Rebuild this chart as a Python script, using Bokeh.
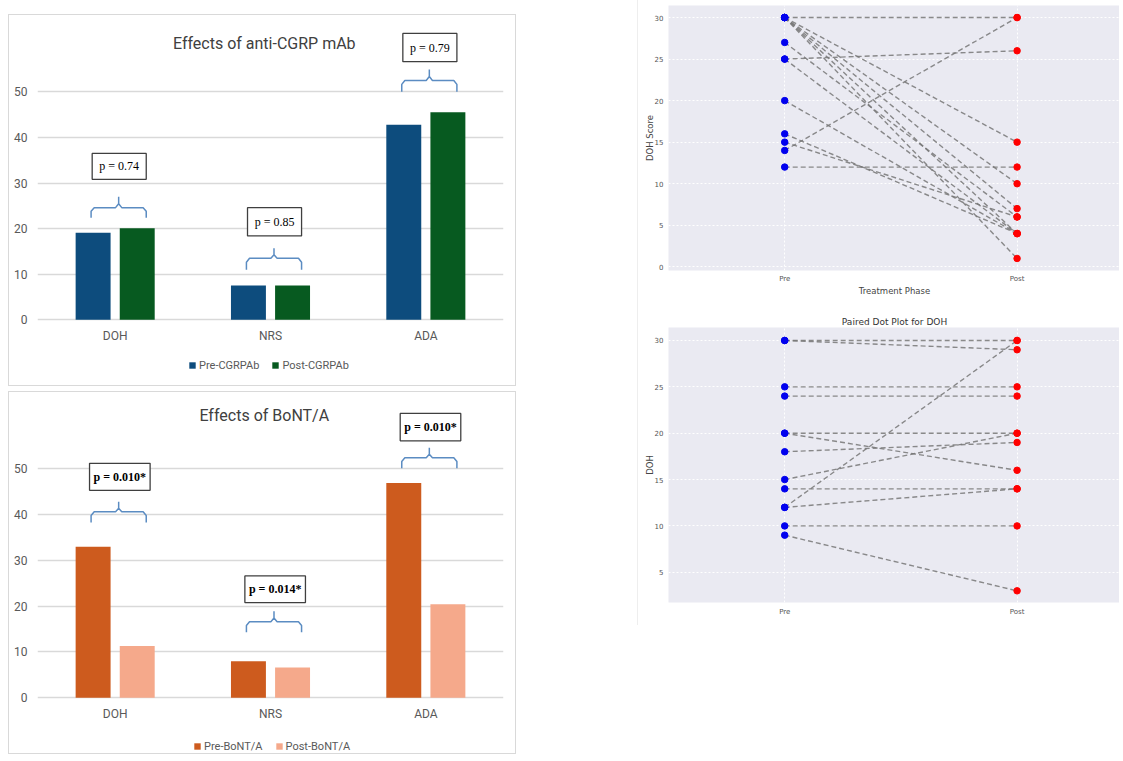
from bokeh.plotting import figure
from bokeh.models import (Range1d, FixedTicker, Legend, LegendItem, Label,
                          ColumnDataSource, Spacer)
from bokeh.layouts import column, row
from bokeh.core.properties import value
from bokeh.embed import file_html
from bokeh.resources import INLINE

# ---------------- data ----------------
categories = ["DOH", "NRS", "ADA"]
cgrp_pre = [19.1, 7.5, 42.8]
cgrp_post = [20.1, 7.5, 45.5]
cgrp_pvals = ["p = 0.74", "p = 0.85", "p = 0.79"]
bont_pre = [33.0, 8.0, 46.9]
bont_post = [11.3, 6.6, 20.4]
bont_pvals = ["p = 0.010*", "p = 0.014*", "p = 0.010*"]
bar_ticks = [0, 10, 20, 30, 40, 50]

phases = ["Pre", "Post"]
dot1_pre = [30, 25, 14, 12, 30, 30, 30, 30, 30, 27, 25, 20, 16, 15]
dot1_post = [30, 26, 30, 12, 15, 10, 7, 4, 1, 6, 4, 4, 4, 6]
dot1_ticks = [0, 5, 10, 15, 20, 25, 30]
dot2_pre = [30, 30, 25, 24, 20, 20, 18, 15, 14, 12, 12, 10, 9]
dot2_post = [30, 29, 25, 24, 20, 16, 19, 20, 14, 30, 14, 10, 3]
dot2_ticks = [5, 10, 15, 20, 25, 30]

SANS = "Roboto"
SERIF = "Liberation Serif"
MPL = "DejaVu Sans"


def brace(c, lo, hi, y_end, y_h, y_tip):
    xl, xr = c + lo, c + hi
    xc = (xl + xr) / 2
    d = 0.02
    e = (y_h - y_end) * 0.35
    f = (y_tip - y_h) * 0.35
    xs = [xl, xl, xl + d, xc - d, xc, xc, xc, xc + d, xr - d, xr, xr]
    ys = [y_end, y_h - e, y_h, y_h, y_h + f, y_tip, y_h + f, y_h, y_h, y_h - e, y_end]
    return xs, ys


def bar_panel(title, title_pos, pre, post, pvals, colors, labels, height,
              top_border, y_range, braces, boxes, box_x, bold, legend_loc):
    n = len(categories)
    idx = list(range(n))
    p = figure(width=508, height=height, x_range=Range1d(-0.5, n - 0.5),
               y_range=Range1d(*y_range), output_backend="svg",
               toolbar_location=None, min_border_left=28, min_border_right=14,
               min_border_top=top_border, min_border_bottom=0)
    p.outline_line_color = None
    p.background_fill_color = "white"
    p.border_fill_color = "white"
    p.styles = {"border": "1px solid #d9d9d9"}

    src = ColumnDataSource(dict(x=idx, pre=pre, post=post,
                                xpre=[i - 0.142 for i in idx],
                                xpost=[i + 0.142 for i in idx]))
    r1 = p.vbar(x="xpre", top="pre", width=0.225, source=src,
                fill_color=colors[0], line_color=None)
    r2 = p.vbar(x="xpost", top="post", width=0.225, source=src,
                fill_color=colors[1], line_color=None)

    # axes
    p.xaxis.ticker = FixedTicker(ticks=idx)
    p.xaxis.major_label_overrides = {i: c for i, c in enumerate(categories)}
    p.xaxis.fixed_location = 0
    p.yaxis.ticker = FixedTicker(ticks=bar_ticks)
    for ax in (p.xaxis, p.yaxis):
        ax.axis_line_color = None
        ax.major_tick_line_color = None
        ax.minor_tick_line_color = None
        ax.major_tick_out = 0
        ax.major_tick_in = 0
        ax.minor_tick_out = 0
        ax.major_label_text_font = SANS
        ax.major_label_text_font_size = "12px"
        ax.major_label_text_color = "#595959"
    p.xaxis.major_label_standoff = 9
    p.yaxis.major_label_standoff = 10
    p.xgrid.grid_line_color = None
    p.ygrid.grid_line_color = "#d9d9d9"
    p.ygrid.grid_line_width = 1.3

    # brackets
    bx, by = [], []
    for i, (ye, yh, yt) in enumerate(braces):
        xs, ys = brace(i, -0.155, 0.2, ye, yh, yt)
        bx.append(xs)
        by.append(ys)
    p.multi_line(xs=bx, ys=by, line_color="#5b8cc2", line_width=1.5)

    # p-value boxes
    bsrc = ColumnDataSource(dict(
        left=[i + box_x[0] for i in idx], right=[i + box_x[1] for i in idx],
        bottom=[b[0] for b in boxes], top=[b[1] for b in boxes],
        xc=[i + (box_x[0] + box_x[1]) / 2 for i in idx],
        yc=[(b[0] + b[1]) / 2 for b in boxes], txt=pvals))
    p.quad(left="left", right="right", bottom="bottom", top="top", source=bsrc,
           fill_color="white", line_color="#3f3f3f", line_width=1.3)
    p.text(x="xc", y="yc", text="txt", source=bsrc, text_align="center",
           text_baseline="middle", text_font=value(SERIF),
           text_font_size="12px", text_color="black",
           text_font_style="bold" if bold else "normal")

    p.add_layout(Label(x=title_pos[0], y=title_pos[1], text=title,
                       text_align="center", text_baseline="middle",
                       text_font=SANS, text_font_size="16px",
                       text_color="#404040"))

    legend = Legend(items=[LegendItem(label=labels[0], renderers=[r1]),
                           LegendItem(label=labels[1], renderers=[r2])],
                    orientation="horizontal", location=legend_loc,
                    glyph_width=8, glyph_height=8, label_standoff=3,
                    spacing=12, padding=0, margin=0,
                    label_text_font=SANS, label_text_font_size="11px",
                    label_text_color="#595959", background_fill_alpha=0,
                    border_line_color=None, label_height=14)
    p.add_layout(legend, "center")
    return p


p1 = bar_panel("Effects of anti-CGRP mAb", (0.96, 60.6), cgrp_pre, cgrp_post,
               cgrp_pvals, ["#0d4c7d", "#075a20"], ["Pre-CGRPAb", "Post-CGRPAb"],
               372, 7, (-14.84, 65.2),
               [(22.4, 24.6, 27.0), (11.0, 13.5, 15.7), (50.0, 52.5, 54.9)],
               [(30.8, 36.5), (18.4, 24.6), (56.6, 62.8)], (-0.148, 0.2), False,
               (151, 15))

p2 = bar_panel("Effects of BoNT/A", (0.96, 61.6), bont_pre, bont_post,
               bont_pvals, ["#cd5b1e", "#f5a98b"], ["Pre-BoNT/A", "Post-BoNT/A"],
               363, 6, (-12.6, 65.35),
               [(38.3, 40.6, 42.8), (14.3, 16.6, 18.9), (50.1, 52.4, 54.6)],
               [(45.3, 51.2), (20.8, 26.6), (56.1, 62.1)], (-0.165, 0.225), True,
               (156, 2))


def dot_panel(pre, post, ticks, y_range, height, top_border, bottom_border,
              ylabel, xlabel=None, title=None, tick_standoff=3):
    p = figure(width=482, height=height, x_range=Range1d(-0.5, 1.445),
               y_range=Range1d(*y_range), output_backend="svg",
               toolbar_location=None, min_border_left=30, min_border_right=0,
               min_border_top=top_border, min_border_bottom=bottom_border,
               title=title)
    p.background_fill_color = "#eaeaf2"
    p.border_fill_color = "white"
    p.outline_line_color = None
    p.styles = {"border-left": "1px solid #eeeeee"}
    n = len(pre)
    src = ColumnDataSource(dict(x0=[0] * n, x1=[1] * n, pre=pre, post=post))
    p.segment(x0="x0", y0="pre", x1="x1", y1="post", source=src,
              line_color="#777777", line_alpha=0.85, line_width=1.4,
              line_dash="5 3")
    p.scatter(x="x0", y="pre", source=src, size=6.5, fill_color="#0000ee",
              line_color="#0000ee")
    p.scatter(x="x1", y="post", source=src, size=6.5, fill_color="#ff0000",
              line_color="#ff0000")
    p.xaxis.ticker = FixedTicker(ticks=[0, 1])
    p.xaxis.major_label_overrides = {i: ph for i, ph in enumerate(phases)}
    p.yaxis.ticker = FixedTicker(ticks=ticks)
    for ax in (p.xaxis, p.yaxis):
        ax.axis_line_color = None
        ax.major_tick_line_color = None
        ax.minor_tick_line_color = None
        ax.major_tick_out = 0
        ax.major_tick_in = 0
        ax.minor_tick_out = 0
        ax.major_label_text_font = MPL
        ax.major_label_text_font_size = "7px"
        ax.major_label_text_color = "#555555"
        ax.axis_label_text_font = MPL
        ax.axis_label_text_font_size = "8.5px"
        ax.axis_label_text_font_style = "normal"
        ax.axis_label_text_color = "#444444"
        ax.axis_label_standoff = 0
    p.yaxis.axis_label_standoff = -3
    p.xaxis.major_label_standoff = tick_standoff
    p.yaxis.major_label_standoff = 5
    p.yaxis.axis_label = ylabel
    if xlabel:
        p.xaxis.axis_label = xlabel
    for g in (p.xgrid, p.ygrid):
        g.grid_line_color = "white"
        g.grid_line_dash = "2 2"
        g.grid_line_width = 1
    if title:
        p.title.align = "center"
        p.title.offset = 6
        p.title.text_font = MPL
        p.title.text_font_size = "9px"
        p.title.text_font_style = "normal"
        p.title.text_color = "#333333"
        p.title.standoff = 2
    return p


d1 = dot_panel(dot1_pre, dot1_post, dot1_ticks, (-0.45, 31.45), 300, 5, 30,
               "DOH Score", xlabel="Treatment Phase", tick_standoff=4)
d2 = dot_panel(dot2_pre, dot2_post, dot2_ticks, (1.74, 31.4), 325, 27, 23,
               "DOH", title="Paired Dot Plot for DOH", tick_standoff=5)

left = column(Spacer(height=14), p1, Spacer(height=5), p2)
right = column(d1, d2)
layout = row(Spacer(width=8), left, Spacer(width=121), right)

open("out.html", "w").write(file_html(layout, INLINE))
